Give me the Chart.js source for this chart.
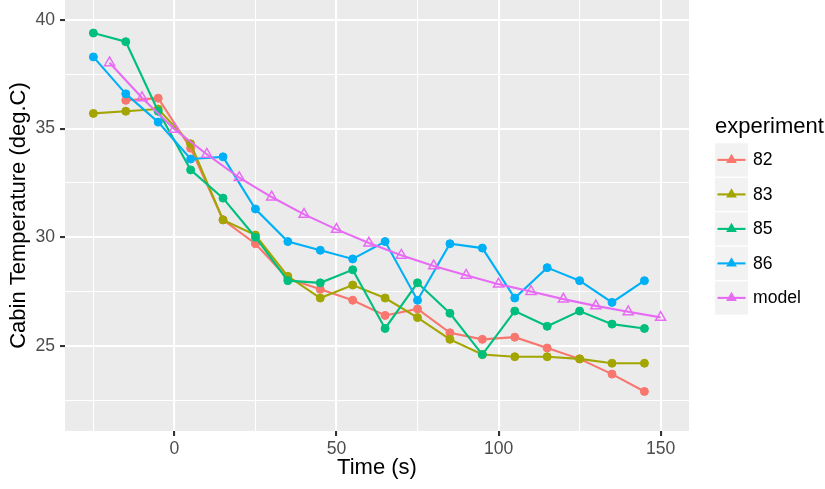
<!DOCTYPE html>
<html>
<head>
<meta charset="utf-8">
<script src="https://cdn.jsdelivr.net/npm/chart.js@4.4.1/dist/chart.umd.min.js"></script>
<style>
html,body{margin:0;padding:0;background:#ffffff;}
canvas{display:block;}
</style>
</head>
<body>
<canvas id="c" width="825" height="489"></canvas>
<script>
// ---- data ----
const expTime = [-25,-15,-5,5,15,25,35,45,55,65,75,85,95,105,115,125,135,145];
const exp82 = [null,36.3,36.4,34.1,30.8,29.7,28.1,27.6,27.1,26.4,26.7,25.6,25.3,25.4,24.9,24.4,23.7,22.9];
const exp83 = [35.7,35.8,35.9,34.3,30.8,30.1,28.2,27.2,27.8,27.2,26.3,25.3,24.6,24.5,24.5,24.4,24.2,24.2];
const exp85 = [39.4,39.0,35.8,33.1,31.8,30.0,28.0,27.9,28.5,25.8,27.9,26.5,24.6,26.6,25.9,26.6,26.0,25.8];
const exp86 = [38.3,36.6,35.3,33.6,33.7,31.3,29.8,29.4,29.0,29.8,27.1,29.7,29.5,27.2,28.6,28.0,27.0,28.0];
const modelTime = [-20,-10,0,10,20,30,40,50,60,70,80,90,100,110,120,130,140,150];
const modelTemp = [38.03,36.42,34.97,33.82,32.74,31.85,31.05,30.36,29.73,29.17,28.68,28.25,27.84,27.5,27.15,26.84,26.57,26.31];
const seriesNames = ['82','83','85','86','model'];
const xTickValues = [-25,0,25,50,75,100,125,150];
const xTickLabels = [0,50,100,150];
const yTickValues = [22.5,25,27.5,30,32.5,35,37.5,40];
const yTickLabels = [25,30,35,40];

// ---- styles ----
const FONT = '"Liberation Sans", Arial, Helvetica, sans-serif';
const colors = ['#F8766D','#A3A500','#00BF7D','#00B0F6','#E76BF3'];

function pts(xs, ys){ return xs.map((x,i)=>({x:x, y:ys[i]})); }

const seriesData = [pts(expTime,exp82), pts(expTime,exp83), pts(expTime,exp85), pts(expTime,exp86), pts(modelTime,modelTemp)];

const datasets = seriesData.map((d,i)=>{
  const c = colors[i];
  const isModel = i === 4;
  return {
    label: seriesNames[i],
    data: d,
    borderColor: c,
    backgroundColor: c,
    borderWidth: 2.1,
    tension: 0,
    fill: false,
    pointStyle: isModel ? 'triangle' : 'circle',
    pointRadius: isModel ? 5.8 : 4,
    pointBorderWidth: isModel ? 1.5 : 1,
    pointBorderColor: c,
    pointBackgroundColor: isModel ? 'rgba(0,0,0,0)' : c,
    order: 5 - i
  };
});

const bgPlugin = {
  id: 'panelBg',
  beforeDraw(chart){
    const {ctx, chartArea:a} = chart;
    ctx.save();
    ctx.fillStyle = '#EBEBEB';
    ctx.fillRect(a.left, a.top, a.right - a.left, a.bottom - a.top);
    ctx.restore();
  }
};

const legendPlugin = {
  id: 'ggLegend',
  afterDraw(chart){
    const ctx = chart.ctx;
    ctx.save();
    ctx.fillStyle = '#000000';
    ctx.font = '22px ' + FONT;
    ctx.textAlign = 'left';
    ctx.textBaseline = 'alphabetic';
    ctx.fillText('experiment', 715, 133);
    const boxX = 715, boxW = 33, boxH = 33.2, top0 = 143.3, step = 34.5;
    for (let i = 0; i < seriesNames.length; i++) {
      const y0 = top0 + i*step;
      const cy = y0 + boxH/2;
      ctx.fillStyle = '#F2F2F2';
      ctx.fillRect(boxX, y0, boxW, boxH);
      ctx.strokeStyle = colors[i];
      ctx.lineWidth = 2.1;
      ctx.beginPath();
      ctx.moveTo(boxX + 2.5, cy);
      ctx.lineTo(boxX + boxW - 2.5, cy);
      ctx.stroke();
      const R = 6.2, cx = boxX + boxW/2;
      ctx.fillStyle = colors[i];
      ctx.beginPath();
      ctx.moveTo(cx, cy - R);
      ctx.lineTo(cx + R*Math.sqrt(3)/2, cy + R/2);
      ctx.lineTo(cx - R*Math.sqrt(3)/2, cy + R/2);
      ctx.closePath();
      ctx.fill();
      ctx.fillStyle = '#000000';
      ctx.font = '17.6px ' + FONT;
      ctx.textBaseline = 'middle';
      ctx.fillText(seriesNames[i], 753, cy + 0.5);
    }
    ctx.restore();
  }
};

new Chart(document.getElementById('c'), {
  type: 'line',
  data: { datasets: datasets },
  plugins: [bgPlugin, legendPlugin],
  options: {
    responsive: false,
    animation: false,
    events: [],
    layout: { padding: { top: 0, left: 0, right: 136, bottom: 0 }, autoPadding: false },
    plugins: { legend: { display: false }, tooltip: { enabled: false } },
    scales: {
      x: {
        type: 'linear',
        min: -33.75,
        max: 158.75,
        afterBuildTicks(s){ s.ticks = xTickValues.map(v=>({value:v})); },
        afterFit(s){ s.height = 58; s.paddingLeft = 0; s.paddingRight = 0; },
        border: { display: false },
        grid: {
          color: '#FFFFFF',
          lineWidth: (c)=> (c.tick && xTickLabels.includes(c.tick.value)) ? 2.1 : 1.07,
          drawTicks: true,
          tickLength: 5,
          tickWidth: 2.1,
          tickColor: (c)=> (c.tick && xTickLabels.includes(c.tick.value)) ? '#333333' : 'rgba(0,0,0,0)'
        },
        ticks: {
          autoSkip: false,
          maxRotation: 0,
          padding: 3,
          color: '#4D4D4D',
          font: { family: FONT, size: 17.6 },
          callback: (v)=> xTickLabels.includes(v) ? String(v) : ''
        },
        title: {
          display: true,
          text: 'Time (s)',
          color: '#000000',
          font: { family: FONT, size: 22 },
          padding: { top: 0, bottom: 8 }
        }
      },
      y: {
        type: 'linear',
        min: 21.08,
        max: 40.92,
        afterBuildTicks(s){ s.ticks = yTickValues.map(v=>({value:v})); },
        afterFit(s){ s.width = 65; s.paddingTop = 0; s.paddingBottom = 0; },
        border: { display: false },
        grid: {
          color: '#FFFFFF',
          lineWidth: (c)=> (c.tick && yTickLabels.includes(c.tick.value)) ? 2.1 : 1.07,
          drawTicks: true,
          tickLength: 5,
          tickWidth: 2.1,
          tickColor: (c)=> (c.tick && yTickLabels.includes(c.tick.value)) ? '#333333' : 'rgba(0,0,0,0)'
        },
        ticks: {
          autoSkip: false,
          padding: 5,
          color: '#4D4D4D',
          font: { family: FONT, size: 17.6 },
          callback: (v)=> yTickLabels.includes(v) ? String(v) : ''
        },
        title: {
          display: true,
          text: 'Cabin Temperature (deg.C)',
          color: '#000000',
          font: { family: FONT, size: 22 },
          padding: { top: 6, bottom: 0 }
        }
      }
    }
  }
});
</script>
</body>
</html>
